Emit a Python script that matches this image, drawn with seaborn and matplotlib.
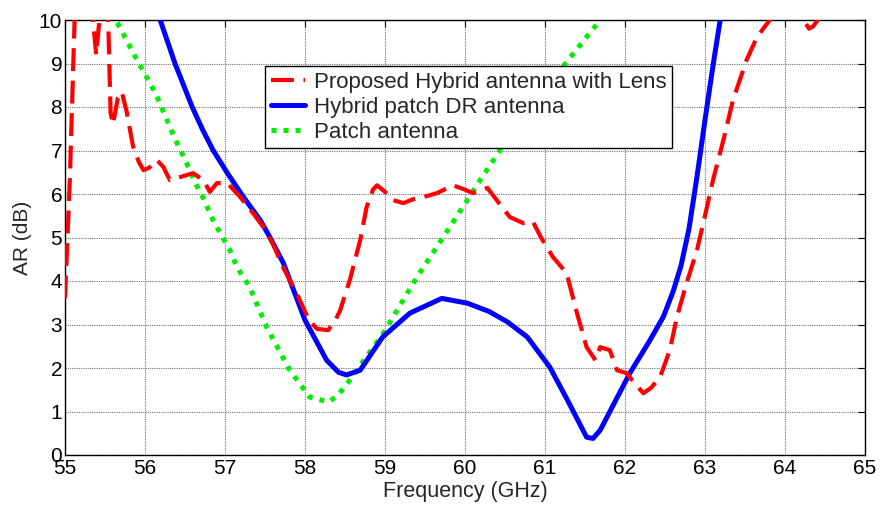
import numpy as np
import pandas as pd
import matplotlib
matplotlib.use("Agg")
import matplotlib.pyplot as plt
import seaborn as sns

# ---- data ----
lens_freq = [55.0, 55.06, 55.12, 55.2, 55.3, 55.35, 55.39, 55.43, 55.48, 55.54,
             55.57, 55.6, 55.66, 55.71, 55.77, 55.85, 55.92, 55.98, 56.05, 56.15,
             56.23, 56.31, 56.44, 56.6, 56.73, 56.81, 56.9, 57.03, 57.19, 57.35,
             57.48, 57.6, 57.73, 57.9, 58.05, 58.15, 58.29, 58.38, 58.44, 58.56,
             58.69, 58.77, 58.85, 58.9, 59.0, 59.1, 59.23, 59.35, 59.48, 59.65,
             59.85, 60.0, 60.1, 60.28, 60.4, 60.56, 60.73, 60.85, 60.95, 61.1,
             61.27, 61.4, 61.52, 61.63, 61.69, 61.81, 61.9, 62.02, 62.12, 62.23,
             62.33, 62.44, 62.56, 62.65, 62.77, 62.9, 63.0, 63.1, 63.23, 63.35, 63.52,
             63.65, 63.81, 64.0, 64.2, 64.3, 64.35, 64.45]
lens_ar = [3.6, 6.3, 10.0, 12.0, 11.0, 10.0, 9.2, 10.0, 12.0, 10.0,
           7.86, 7.6, 8.2, 8.35, 7.9, 7.1, 6.75, 6.55, 6.6, 6.78,
           6.62, 6.32, 6.39, 6.48, 6.32, 6.05, 6.25, 6.25, 5.93, 5.56,
           5.24, 4.85, 4.3, 3.7, 3.1, 2.9, 2.87, 3.1, 3.33, 4.02,
           4.94, 5.7, 6.1, 6.2, 6.05, 5.86, 5.79, 5.88, 5.93, 6.02,
           6.2, 6.1, 6.02, 6.14, 5.85, 5.47, 5.33, 5.36, 5.0, 4.55,
           4.18, 3.26, 2.48, 2.18, 2.48, 2.41, 1.95, 1.88, 1.65, 1.42,
           1.55, 1.8, 2.41, 3.18, 3.95, 4.71, 5.5, 6.32, 7.24, 8.16, 9.08,
           9.61, 10.0, 10.5, 10.1, 9.8, 9.85, 10.1]

hyb_freq = [56.15, 56.19, 56.375, 56.59, 56.72, 56.85, 57.03, 57.23, 57.44, 57.56,
            57.73, 58.0, 58.27, 58.42, 58.52, 58.69, 58.97, 59.31, 59.71, 60.03,
            60.3, 60.53, 60.78, 61.06, 61.27, 61.52, 61.6, 61.69, 62.06, 62.3,
            62.48, 62.6, 62.7, 62.8, 62.9, 63.0, 63.1, 63.19, 63.25]
hyb_ar = [10.5, 10.0, 9.0, 8.0, 7.48, 7.01, 6.48, 5.93, 5.4, 5.01,
          4.41, 3.1, 2.18, 1.9, 1.84, 1.95, 2.71, 3.26, 3.6, 3.49,
          3.3, 3.06, 2.71, 2.02, 1.3, 0.41, 0.38, 0.57, 1.88, 2.6,
          3.18, 3.75, 4.35, 5.2, 6.4, 7.7, 8.95, 10.0, 11.0]

patch_freq = [55.6, 55.65, 55.88, 56.13, 56.38, 56.52, 56.63, 56.73, 56.85, 56.94,
              57.05, 57.15, 57.31, 57.52, 57.81, 58.06, 58.29, 58.4, 58.56, 58.98,
              59.4, 59.81, 60.19, 60.69, 61.19, 61.69, 61.75]
patch_ar = [10.6, 9.95, 9.15, 8.32, 7.25, 6.71, 6.25, 5.9, 5.4, 5.1,
            4.75, 4.32, 3.86, 2.94, 1.95, 1.33, 1.22, 1.35, 1.72, 2.8,
            4.09, 5.24, 6.32, 7.7, 8.85, 10.0, 10.15]

labels = ["Proposed Hybrid antenna with Lens", "Hybrid patch DR antenna", "Patch antenna"]
x_ticks = list(range(55, 66))
y_ticks = list(range(0, 11))

sns.set_style("white")
plt.rcParams['font.family'] = ['Liberation Sans', 'DejaVu Sans']

fig = plt.figure(figsize=(8.81, 5.05), dpi=100)
ax = fig.add_axes([65/881, 50/505, 800/881, 435/505])

df_lens = pd.DataFrame({"f": lens_freq, "ar": lens_ar})
df_hyb = pd.DataFrame({"f": hyb_freq, "ar": hyb_ar})
df_patch = pd.DataFrame({"f": patch_freq, "ar": patch_ar})

sns.lineplot(data=df_lens, x="f", y="ar", ax=ax, color="#ff0000", lw=3.0,
             linestyle=(0, (5.5, 2.3)), dash_capstyle="butt", label=labels[0], zorder=4)
sns.lineplot(data=df_hyb, x="f", y="ar", ax=ax, color="#0000ff", lw=3.6,
             label=labels[1], zorder=3)
sns.lineplot(data=df_patch, x="f", y="ar", ax=ax, color="#00ee00", lw=3.6,
             linestyle=(0, (1, 1.4)), dash_capstyle="butt", label=labels[2], zorder=2)

ax.set_xlim(55, 65)
ax.set_ylim(0, 10)
ax.set_xticks(x_ticks)
ax.set_yticks(y_ticks)
ax.grid(True, color="0.45", linestyle=(0, (1, 1)), linewidth=0.8)
ax.set_axisbelow(True)
ax.tick_params(direction="in", top=True, right=True, length=5, width=0.8,
               labelsize=15, colors="black")
ax.tick_params(axis="x", pad=3)
ax.tick_params(axis="y", pad=2)
for s in ax.spines.values():
    s.set_color("black")
    s.set_linewidth(1.0)
ax.set_xlabel("Frequency (GHz)", fontsize=15.5, labelpad=2)
ax.set_ylabel("AR (dB)", fontsize=15, labelpad=5)

leg = ax.legend(loc="upper left", bbox_to_anchor=(0.25, 0.894), borderaxespad=0,
                fontsize=16, frameon=True, fancybox=False, framealpha=1,
                edgecolor="black", handlelength=1.55, handletextpad=0.4,
                labelspacing=0.18, borderpad=0.25)
leg.get_frame().set_linewidth(1.0)

fig.savefig("out.png", dpi=100)
